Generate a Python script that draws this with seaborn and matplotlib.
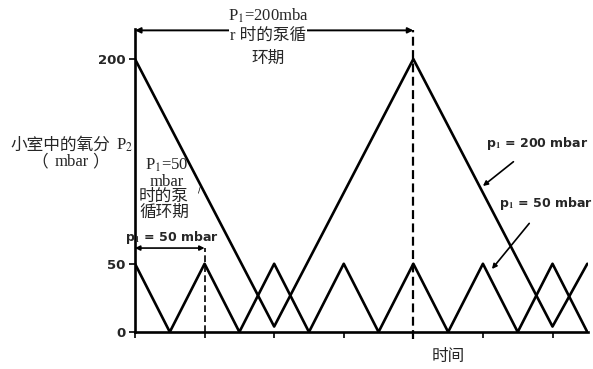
import matplotlib
matplotlib.use("Agg")
import matplotlib.pyplot as plt
import seaborn as sns
import pandas as pd

# ---- data ----
t_200 = [0, 2, 4, 6, 6.5]
p_200 = [200, 4, 200, 4, 50]
t_50 = [0, 0.5, 1, 1.5, 2, 2.5, 3, 3.5, 4, 4.5, 5, 5.5, 6, 6.5]
p_50 = [50, 0, 50, 0, 50, 0, 50, 0, 50, 0, 50, 0, 50, 0]
y_ticks = [0, 50, 200]
y_tick_labels = ["0", "50", "200"]
x_ticks = [0, 1, 2, 3, 4, 5, 6]

sns.set_theme(style="white")
plt.rcParams['mathtext.fontset'] = 'stix'
plt.rcParams['font.family'] = ['DejaVu Sans', 'Noto Sans CJK SC']

W, H = 593, 369
fig = plt.figure(figsize=(W / 100, H / 100), dpi=100)
# axes: x 0 -> px 135, 6.51 -> px 588 ; y 0 -> px 332, 222 -> px 29
ax = fig.add_axes([135 / W, (H - 332) / H, (588 - 135) / W, (332 - 29) / H])
ax.set_xlim(0, 6.51)
ax.set_ylim(0, 222)

df200 = pd.DataFrame({"t": t_200, "p": p_200})
df50 = pd.DataFrame({"t": t_50, "p": p_50})
sns.lineplot(data=df200, x="t", y="p", ax=ax, color="black", lw=1.9, sort=False, estimator=None)
sns.lineplot(data=df50, x="t", y="p", ax=ax, color="black", lw=1.9, sort=False, estimator=None)

for s in ["top", "right"]:
    ax.spines[s].set_visible(False)
for s in ["left", "bottom"]:
    ax.spines[s].set_color("black")
    ax.spines[s].set_linewidth(1.9)

ax.set_xticks(x_ticks)
ax.set_xticklabels([])
ax.set_yticks(y_ticks)
ax.set_yticklabels(y_tick_labels, fontweight="bold", fontsize=9.5, family="DejaVu Sans")
ax.tick_params(axis="both", which="both", direction="out", length=4, width=1.2,
               color="black", left=True, bottom=True, pad=3)
ax.set_xlabel("")
ax.set_ylabel("")

serif_cjk = ['Liberation Serif', 'Noto Sans CJK SC']
cjk = ['Noto Sans CJK SC']

def px(x, y):
    return ((x - 135) / 69.6, (332 - y) / 1.365)

# dashed vertical lines
ax.plot([1, 1], [0, 61.5], ls=(0, (4, 2)), color="black", lw=1.2, clip_on=False)
ax.plot([4, 4], [-5, 221], ls=(0, (4, 2)), color="black", lw=1.6, clip_on=False)

# period arrows
ax.annotate("", xy=(0, 221), xytext=(4, 221),
            arrowprops=dict(arrowstyle="<|-|>", color="black", lw=1.4,
                            mutation_scale=8, shrinkA=0, shrinkB=0),
            annotation_clip=False)
ax.annotate("", xy=(0, 61.5), xytext=(1, 61.5),
            arrowprops=dict(arrowstyle="<|-|>", color="black", lw=1.2,
                            mutation_scale=7, shrinkA=0, shrinkB=0),
            annotation_clip=False)

# top label (covers arrow line)
for txt, yy in [("P$_1$=200mba", 16), ("r 时的泵循", 36), ("环期", 59)]:
    x, y = px(268, yy)
    ax.text(x, y, txt, ha="center", va="center", fontsize=12, family=serif_cjk,
            bbox=dict(facecolor="white", edgecolor="none", pad=0.5), clip_on=False)

# left y label
fig.text(110 / W, 1 - 145 / H, "小室中的氧分", ha="right", va="center",
         fontsize=12, family=cjk)
fig.text(133 / W, 1 - 145 / H, "P$_2$", ha="right", va="center",
         fontsize=12, family=['Liberation Serif'])
fig.text(31 / W, 1 - 162 / H, "（", ha="left", va="center", fontsize=12, family=cjk)
fig.text(72 / W, 1 - 162 / H, "mbar", ha="center", va="center", fontsize=12,
         family=['Liberation Serif'])
fig.text(109 / W, 1 - 162 / H, "）", ha="right", va="center", fontsize=12, family=cjk)

# P1=50 period label
for txt, xx, yy in [("P$_1$=50", 167, 165), ("mbar", 167, 182),
                    ("时的泵", 164, 197), ("循环期", 164, 213)]:
    x, y = px(xx, yy)
    ax.text(x, y, txt, ha="center", va="center", fontsize=12, family=serif_cjk)
x, y = px(199, 190)
ax.text(x, y, "/", ha="center", va="center", fontsize=6, color="black")

x, y = px(172, 237)
ax.text(x, y, "p$_\\mathbf{1}$ = 50 mbar", ha="center", va="center",
        fontsize=9, fontweight="bold", family="DejaVu Sans")

# curve annotations
ax.annotate("p$_\\mathbf{1}$ = 200 mbar", xy=px(483, 186), xytext=px(537, 143),
            ha="center", va="center", fontsize=9, fontweight="bold", family="DejaVu Sans",
            arrowprops=dict(arrowstyle="-|>", color="black", lw=1.2, mutation_scale=7,
                            shrinkA=8, shrinkB=0),
            annotation_clip=False)
ax.annotate("p$_\\mathbf{1}$ = 50 mbar", xy=px(492, 269), xytext=px(546, 203),
            ha="center", va="center", fontsize=9, fontweight="bold", family="DejaVu Sans",
            arrowprops=dict(arrowstyle="-|>", color="black", lw=1.2, mutation_scale=7,
                            shrinkA=8, shrinkB=0),
            annotation_clip=False)

# x label
fig.text(448 / W, 1 - 357 / H, "时间", ha="center", va="center",
         fontsize=12, family=cjk)

fig.savefig("out.png", dpi=100)
